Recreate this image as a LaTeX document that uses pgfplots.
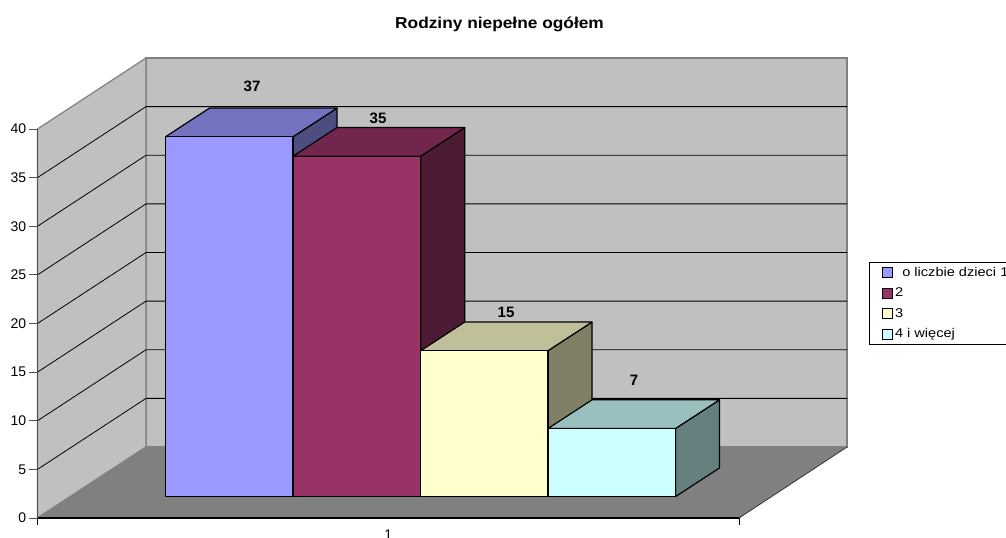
\documentclass[border=0pt]{standalone}
\usepackage{fontspec}
\setmainfont{Liberation Sans}
\newfontfamily\legfont[FakeStretch=1.15]{Liberation Sans}
\newfontfamily\titlefont[FakeStretch=1.1]{Liberation Sans}
\usepackage{pgfplots}
\pgfplotsset{compat=1.18}
\newcommand\bY{2.2}
\newcommand\dY{2.95}
\newcommand\dX{44}
\newcommand\wY{7.3}
\definecolor{wallc}{HTML}{C0C0C0}
\definecolor{floorc}{HTML}{808080}
\definecolor{edgec}{HTML}{808080}
\definecolor{axisc}{HTML}{505050}
\definecolor{barA}{HTML}{9999FF}
\definecolor{barAt}{HTML}{7373BF}
\definecolor{barAs}{HTML}{4D4D80}
\definecolor{barB}{HTML}{993366}
\definecolor{barBt}{HTML}{73264D}
\definecolor{barBs}{HTML}{4D1A33}
\definecolor{barC}{HTML}{FFFFCC}
\definecolor{barCt}{HTML}{BFBF99}
\definecolor{barCs}{HTML}{808066}
\definecolor{barD}{HTML}{CCFFFF}
\definecolor{barDt}{HTML}{99BFBF}
\definecolor{barDs}{HTML}{668080}
% x0, x1, value, front, top, side
\newcommand\threedbar[6]{%
  \addplot[forget plot,fill=#6,draw=black,line width=0.9pt,line join=round] coordinates {(#2,{\bY}) (#2+\dX,{\bY+\dY}) (#2+\dX,{\bY+\dY+#3}) (#2,{\bY+#3})} -- cycle;
  \addplot[forget plot,fill=#5,draw=black,line width=0.9pt,line join=round] coordinates {(#1,{\bY+#3}) (#2,{\bY+#3}) (#2+\dX,{\bY+\dY+#3}) (#1+\dX,{\bY+\dY+#3})} -- cycle;
  \addplot[forget plot,fill=#4,draw=black,line width=0.9pt,line join=round] coordinates {(#1,{\bY}) (#2,{\bY}) (#2,{\bY+#3}) (#1,{\bY+#3})} -- cycle;
}
\newcommand\gridl[1]{%
  \addplot[forget plot,black,line width=0.6pt] coordinates {(37.5,#1) (146,{#1+\wY}) (847,{#1+\wY})};
}
\newcommand\vallabel[3]{\node[font=\fontsize{11.3pt}{13pt}\selectfont\bfseries] at (axis cs:#1,{(518-#2)/9.725}) {#3};}
\begin{document}
\begin{tikzpicture}
\path[use as bounding box] (0,0) rectangle (754.5pt,402.75pt);
\clip (0,0) rectangle (754.5pt,402.75pt);
\begin{axis}[
  at={(28.125pt,14.25pt)}, anchor=south west,
  scale only axis, width=526.125pt, height=291.75pt,
  xmin=37.5, xmax=739, ymin=0, ymax=40,
  clip=false, axis on top=true,
  axis lines=left,
  x axis line style={-,black,line width=1.1pt},
  y axis line style={-,color=axisc,line width=1.4pt},
  tick align=outside,
  ytick={0,5,...,40},
  xtick={388.25}, xticklabels={1},
  minor xtick={37.5,739},
  major tick length=6pt, minor tick length=5pt,
  xtick style={draw=none},
  minor x tick style={draw=black,line width=0.7pt},
  ytick style={draw=axisc,line width=0.7pt},
  /pgf/number format/assume math mode=true,
  tick label style={font=\fontsize{10.5pt}{12pt}\selectfont, black},
  xticklabel style={yshift=0.8pt},
  yticklabel style={xshift=1pt},
  title={\bfseries Rodziny niepełne ogółem},
  title style={at={(axis description cs:0.6586,1.2494)},anchor=center,font=\titlefont\fontsize{11.8pt}{13pt}\selectfont},
  legend style={at={(axis description cs:1.1857,0.658)},anchor=north west,
    draw=black,line width=0.5pt,font=\legfont\fontsize{9.5pt}{11pt}\selectfont,
    legend cell align=left,inner sep=1.5pt,row sep=3.2pt,
    /tikz/every even column/.append style={column sep=0pt}},
  legend image code/.code={\path (0,0); \draw[#1,draw=black,line width=0.6pt] (8pt,-0.13cm) rectangle (15pt,0.13cm);},
]
% walls and floor
\addplot[forget plot,fill=wallc,draw=edgec,line width=0.9pt] coordinates {(146,{\wY}) (847,{\wY}) (847,{40+\wY}) (146,{40+\wY})} -- cycle;
\addplot[forget plot,fill=wallc,draw=edgec,line width=0.9pt] coordinates {(37.5,0) (146,{\wY}) (146,{40+\wY}) (37.5,40)} -- cycle;
\addplot[forget plot,fill=floorc,draw=none] coordinates {(37.5,0) (739,0) (847,{\wY}) (146,{\wY})} -- cycle;
\addplot[forget plot,edgec,line width=0.9pt] coordinates {(37.5,0) (146,{\wY}) (847,{\wY})};
\addplot[forget plot,black!80,line width=0.6pt] coordinates {(739,0) (847,{\wY})};
\gridl{5}\gridl{10}\gridl{15}\gridl{20}\gridl{25}\gridl{30}\gridl{35}
% bars
\threedbar{165.5}{293}{37}{barA}{barAt}{barAs}
\threedbar{293}{420.7}{35}{barB}{barBt}{barBs}
\threedbar{420.7}{548}{15}{barC}{barCt}{barCs}
\threedbar{548}{675.5}{7}{barD}{barDt}{barDs}
\addlegendimage{fill=barA}\addlegendentry{\hspace{5.5pt}o liczbie dzieci 1}
\addlegendimage{fill=barB}\addlegendentry{2}
\addlegendimage{fill=barC}\addlegendentry{3}
\addlegendimage{fill=barD}\addlegendentry{4 i więcej}
\vallabel{252}{86}{37}
\vallabel{378}{118.5}{35}
\vallabel{506}{312}{15}
\vallabel{634}{380}{7}
\end{axis}
\end{tikzpicture}
\end{document}
